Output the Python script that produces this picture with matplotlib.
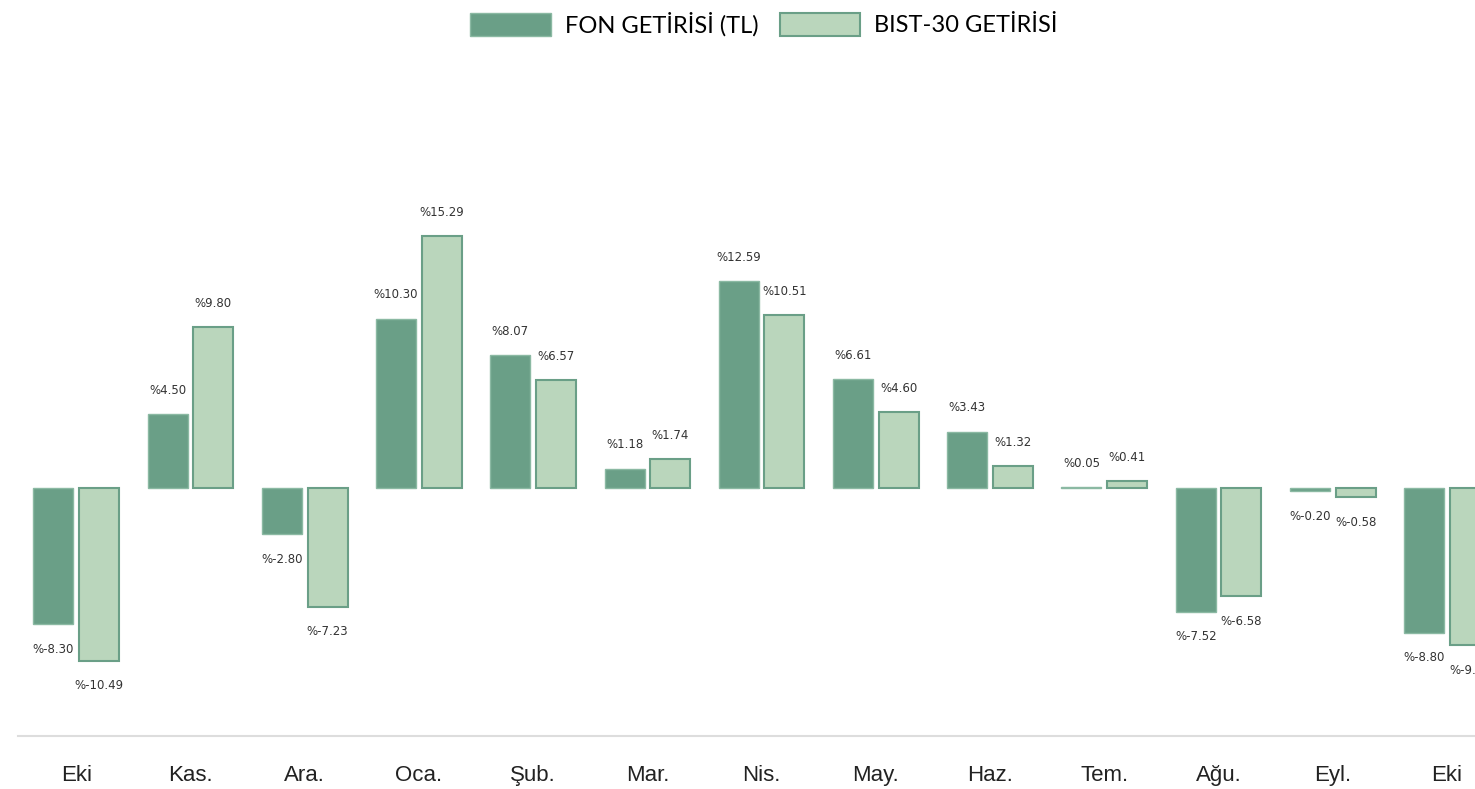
import matplotlib.pyplot as plt
import numpy as np

months = ['Eki', 'Kas.', 'Ara.', 'Oca.', 'Şub.', 'Mar.', 'Nis.', 'May.', 'Haz.', 'Tem.', 'Ağu.', 'Eyl.', 'Eki']
fon = [-8.30, 4.50, -2.80, 10.30, 8.07, 1.18, 12.59, 6.61, 3.43, 0.05, -7.52, -0.20, -8.80]
bist = [-10.49, 9.80, -7.23, 15.29, 6.57, 1.74, 10.51, 4.60, 1.32, 0.41, -6.58, -0.58, -9.55]

dark = '#6a9f87'
light = '#bad6bc'

fig = plt.figure(figsize=(14.75, 7.89), dpi=100)
ax = fig.add_axes([18 / 1475, 1 - 736 / 789, 1 - 18 / 1475, (736 - 60) / 789])

x = np.arange(len(months))
w = 0.35
b1 = ax.bar(x - 0.2, fon, w, color=dark, edgecolor='#8bb9a3', linewidth=1, label='FON GETİRİSİ (TL)')
b2 = ax.bar(x + 0.2, bist, w, color=light, edgecolor=dark, linewidth=1.5, label='BIST-30 GETİRİSİ')

# value labels above / below each bar
for bars, vals in ((b1, fon), (b2, bist)):
    for r, v in zip(bars, vals):
        cx = r.get_x() + r.get_width() / 2
        off = 17 if v >= 0 else -18
        ax.annotate(f'%{v:.2f}', (cx, v), xytext=(0, off), textcoords='offset points',
                    ha='center', va='center', fontsize=8.5, color='#333333')

ax.set_xlim(-0.51, 12.245)
ax.set_ylim(-15.08, (488 - 60) / 16.45)
for s in ['top', 'right', 'left']:
    ax.spines[s].set_visible(False)
ax.spines['bottom'].set_color('#dddddd')
ax.spines['bottom'].set_linewidth(1.5)
ax.set_yticks([])
ax.set_xticks(x)
ax.set_xticklabels(months, fontsize=16, color='#222222', family='Liberation Sans')
ax.tick_params(axis='x', length=0, pad=21)

fig.legend(loc='upper center', bbox_to_anchor=(0.518, 1.012), ncol=2, frameon=False,
           prop={'family': 'Lato', 'size': 17}, handlelength=3.4, handleheight=1.1,
           columnspacing=0.9, handletextpad=0.6)

fig.savefig('out.png', dpi=100)
